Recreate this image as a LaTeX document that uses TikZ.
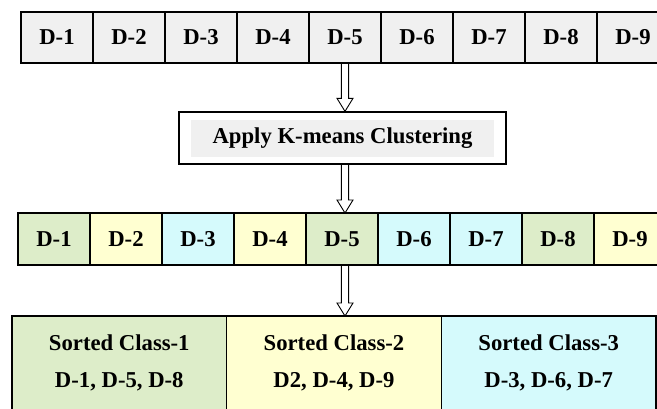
\documentclass[tikz,border=0pt]{standalone}
\usepackage{fontspec}
\setmainfont{Liberation Serif}
\usepackage{xcolor}
\usetikzlibrary{positioning, calc}

\definecolor{cellgray}{HTML}{F0F0F0}
\definecolor{clgreen}{HTML}{DDEDC9}
\definecolor{clyellow}{HTML}{FFFFD1}
\definecolor{clcyan}{HTML}{D5FAFC}

% hollow down arrow: x taken from #1, from #2.south to #3.north
\newcommand{\hollowdown}[3]{%
    \draw[hollow] ($(#1 |- #2.south)+(-3.6pt,0)$)
        -- ($(#1 |- #3.north)+(-3.6pt,13pt)$) -- ++(-4.4pt,0)
        -- (#1 |- #3.north) -- ++(8pt,13pt) -- ++(-4.4pt,0)
        -- ($(#1 |- #2.south)+(3.6pt,0)$);}

\begin{document}
\begin{tikzpicture}[
    node distance=0pt and 0pt,
    cell/.style={
        rectangle,
        draw=black,
        line width=1.3pt,
        inner sep=0pt,
        outer sep=0pt,
        minimum width=72pt,
        minimum height=51pt,
        font=\bfseries\fontsize{22.7}{27}\selectfont
    },
    classbox/.style={
        rectangle,
        draw=black,
        line width=1.3pt,
        inner sep=0pt,
        outer sep=0pt,
        align=center,
        minimum width=214.7pt,
        minimum height=94pt,
        font=\bfseries\fontsize{22.7}{37}\selectfont
    },
    hollow/.style={line width=0.9pt}
]

\path[use as bounding box, clip] (0,0) rectangle (657pt,409pt);

% input documents
\node[cell, fill=cellgray] (t1) at (57pt,371.5pt) {D-1};
\node[cell, fill=cellgray, right=of t1] (t2) {D-2};
\node[cell, fill=cellgray, right=of t2] (t3) {D-3};
\node[cell, fill=cellgray, right=of t3] (t4) {D-4};
\node[cell, fill=cellgray, right=of t4] (t5) {D-5};
\node[cell, fill=cellgray, right=of t5] (t6) {D-6};
\node[cell, fill=cellgray, right=of t6] (t7) {D-7};
\node[cell, fill=cellgray, right=of t7] (t8) {D-8};
\node[cell, fill=cellgray, right=of t8] (t9) {D-9};

% clustering step
\node[rectangle, draw=black, line width=1.3pt, fill=white,
      minimum width=327pt, minimum height=52pt] (apply) at (342.5pt,271pt) {};
\node[rectangle, fill=cellgray, minimum width=303pt, minimum height=37pt,
      font=\bfseries\fontsize{22.7}{27}\selectfont] (applytxt) at (342.5pt,270.5pt)
      {Apply K-means Clustering};

% clustered documents
\node[cell, fill=clgreen, minimum height=52pt] (c1) at (54pt,170pt) {D-1};
\node[cell, fill=clyellow, minimum height=52pt, right=of c1] (c2) {D-2};
\node[cell, fill=clcyan, minimum height=52pt, right=of c2] (c3) {D-3};
\node[cell, fill=clyellow, minimum height=52pt, right=of c3] (c4) {D-4};
\node[cell, fill=clgreen, minimum height=52pt, right=of c4] (c5) {D-5};
\node[cell, fill=clcyan, minimum height=52pt, right=of c5] (c6) {D-6};
\node[cell, fill=clcyan, minimum height=52pt, right=of c6] (c7) {D-7};
\node[cell, fill=clgreen, minimum height=52pt, right=of c7] (c8) {D-8};
\node[cell, fill=clyellow, minimum height=52pt, right=of c8] (c9) {D-9};

% sorted classes
\node[classbox, fill=clgreen] (class1) at (119.3pt,46pt) {Sorted Class-1\\D-1, D-5, D-8};
\node[classbox, fill=clyellow, right=of class1] (class2) {Sorted Class-2\\D2, D-4, D-9};
\node[classbox, fill=clcyan, right=of class2] (class3) {Sorted Class-3\\D-3, D-6, D-7};

\hollowdown{t5}{t5}{apply}
\hollowdown{t5}{apply}{c5}
\hollowdown{t5}{c5}{class2}

\end{tikzpicture}
\end{document}
